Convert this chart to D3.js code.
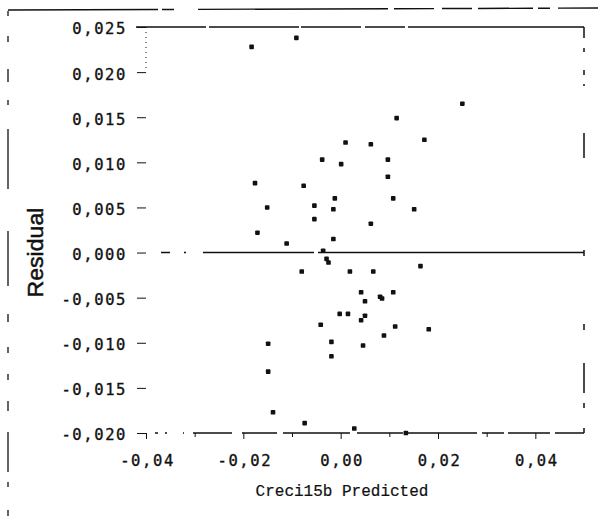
<!DOCTYPE html>
<html><head><meta charset="utf-8">
<script src="https://cdn.jsdelivr.net/npm/d3@7/dist/d3.min.js"></script>
<style>
html,body{margin:0;padding:0;background:#fff;}
svg{display:block;background:#fff;}
</style></head><body>
<svg id="c" width="607" height="521"></svg>
<script>
// ---- data ----
const predicted = [-0.0183,-0.0091,0.0115,0.0172,0.0010,0.0062,0.0250,-0.0038,0.0001,0.0097,
  0.0097,-0.0176,-0.0076,-0.0012,0.0108,-0.0151,-0.0054,-0.0015,0.0151,-0.0054,
  0.0062,-0.0171,-0.0111,-0.0015,-0.0036,-0.0029,-0.0025,-0.0080,0.0019,0.0067,
  0.0164,0.0042,0.0050,0.0081,0.0085,0.0108,-0.0002,0.0015,0.0050,0.0042,
  -0.0041,0.0112,0.0181,0.0089,-0.0019,0.0046,-0.0019,-0.0149,-0.0149,-0.0139,
  -0.0074,0.0028,0.0134];
const residual = [0.0228,0.0238,0.0149,0.0125,0.0122,0.0120,0.0165,0.0103,0.0098,0.0103,
  0.0084,0.0077,0.0074,0.0060,0.0060,0.0050,0.0052,0.0048,0.0048,0.0037,
  0.0032,0.0022,0.0010,0.0015,0.0002,-0.0007,-0.0011,-0.0021,-0.0021,-0.0021,
  -0.0015,-0.0044,-0.0054,-0.0049,-0.0051,-0.0044,-0.0068,-0.0068,-0.0070,-0.0075,
  -0.0080,-0.0082,-0.0085,-0.0092,-0.0099,-0.0103,-0.0115,-0.0101,-0.0132,-0.0177,
  -0.0189,-0.0195,-0.0200];
const xTickValues = [-0.04,-0.02,0.00,0.02,0.04];
const xTickLabels = ["-0,04","-0,02","0,00","0,02","0,04"];
const xMinorTicks = [-0.03,-0.01,0.01,0.03];
const yTickValues = [0.025,0.020,0.015,0.010,0.005,0.000,-0.005,-0.010,-0.015,-0.020];
const yTickLabels = ["0,025","0,020","0,015","0,010","0,005","0,000","-0,005","-0,010","-0,015","-0,020"];
const xDomain = [-0.04,0.05];
const yDomain = [-0.020,0.025];
const xTitle = "Creci15b Predicted";
const yTitle = "Residual";

// ---- drawing ----
const svg = d3.select("#c");
const x = d3.scaleLinear().domain(xDomain).range([146,584]);
const y = d3.scaleLinear().domain(yDomain).range([433,27]);
const ink = "#111";

// scan page border (broken lines)
svg.append("line").attr("x1",8).attr("x2",607).attr("y1",10).attr("y2",8)
  .attr("stroke",ink).attr("stroke-width",1.4)
  .attr("stroke-dasharray","150,4,12,24,190,6,40,8,30,6,55,5,12,8,40");
svg.append("line").attr("x1",8).attr("x2",8).attr("y1",11).attr("y2",521)
  .attr("stroke",ink).attr("stroke-width",1.3)
  .attr("stroke-dasharray","5,20,6,27,13,18,5,24,60,42,55,28,8,25,6,21,6,21,10,21,40,10,5,23,6,30,2");

// plot frame pieces
const frame = svg.append("g").attr("fill","none").attr("stroke",ink);
frame.append("line").attr("x1",x(xDomain[0])-10).attr("x2",x(xDomain[1]))
  .attr("y1",y(yDomain[1])).attr("y2",y(yDomain[1]))
  .attr("stroke-width",1.5).attr("stroke-dasharray","70,3,90,2,60,4,40,3,1000");
frame.append("line").attr("x1",x(xDomain[1])).attr("x2",x(xDomain[1]))
  .attr("y1",y(yDomain[1])).attr("y2",y(yDomain[0]))
  .attr("stroke-width",1.5)
  .attr("stroke-dasharray","11,10,4,18,5,9,2,47,25,92,6,68,6,33,30,10,5,20,5");
frame.append("line").attr("x1",x(xDomain[0])).attr("x2",x(xDomain[0]))
  .attr("y1",y(yDomain[1])).attr("y2",y(0.020))
  .attr("stroke-width",1).attr("stroke-dasharray","1,4");
frame.append("line").attr("x1",x(xDomain[0])).attr("x2",x(xDomain[1]))
  .attr("y1",y(yDomain[0])).attr("y2",y(yDomain[0]))
  .attr("stroke-width",1.4)
  .attr("stroke-dasharray","0,9,3,7,2,16,1,9,39,10,35,6,67,7,46,4,70,5,22,4,42,5,30");
// zero reference line
frame.append("line").attr("x1",x(xDomain[0])).attr("x2",x(xDomain[1]))
  .attr("y1",y(0)).attr("y2",y(0))
  .attr("stroke-width",1.5).attr("stroke-dasharray","0,15,9,14,2,17,111,4,1000");

// y axis
const yAxis = svg.append("g").attr("transform",`translate(${x(xDomain[0])},0)`)
  .call(d3.axisLeft(y).tickValues(yTickValues).tickSize(9).tickPadding(10)
    .tickFormat((d,i)=>yTickLabels[i]));
yAxis.select(".domain").remove();
yAxis.selectAll(".tick line").attr("stroke",ink).attr("stroke-width",1);
yAxis.selectAll(".tick text")
  .attr("font-family","'DejaVu Sans Mono', monospace").attr("font-size",15.5)
  .attr("letter-spacing","1.6px").attr("fill",ink).attr("stroke",ink).attr("stroke-width",0.35)
  .attr("dy","0.45em");

// x axis
const xAxis = svg.append("g").attr("transform",`translate(0,${y(yDomain[0])})`)
  .call(d3.axisBottom(x).tickValues(xTickValues).tickSize(6).tickPadding(16)
    .tickFormat((d,i)=>xTickLabels[i]));
xAxis.select(".domain").remove();
xAxis.selectAll(".tick line").attr("stroke",ink).attr("stroke-width",1);
xAxis.selectAll(".tick text")
  .attr("font-family","'DejaVu Sans Mono', monospace").attr("font-size",15.5)
  .attr("letter-spacing","1.6px").attr("fill",ink).attr("stroke",ink).attr("stroke-width",0.35)
  .attr("dx","1px");
const xMinor = svg.append("g").attr("transform",`translate(0,${y(yDomain[0])})`)
  .call(d3.axisBottom(x).tickValues(xMinorTicks).tickSize(4).tickFormat(""));
xMinor.select(".domain").remove();
xMinor.selectAll(".tick line").attr("stroke",ink).attr("stroke-width",1);

// titles
svg.append("text").attr("x",(x(xDomain[0])+x(xDomain[1]))/2 - 23).attr("y",496)
  .attr("text-anchor","middle")
  .attr("font-family","'Courier New', Courier, 'Nimbus Mono PS', FreeMono, 'Liberation Mono', monospace")
  .attr("font-size",16).attr("fill",ink).attr("stroke",ink).attr("stroke-width",0.2).text(xTitle);
svg.append("text").attr("transform",`translate(43,${y(0)}) rotate(-90)`)
  .attr("text-anchor","middle").attr("font-family","'Liberation Sans', Arial, sans-serif")
  .attr("font-size",22).attr("textLength",90).attr("lengthAdjust","spacingAndGlyphs")
  .attr("fill",ink).attr("stroke",ink).attr("stroke-width",0.5).text(yTitle);

// points
const pts = predicted.map((p,i)=>({p, r: residual[i]}));
svg.append("g").selectAll("rect").data(pts).join("rect")
  .attr("x",d=>x(d.p)-2.3).attr("y",d=>y(d.r)-2.3)
  .attr("width",4.6).attr("height",4.6).attr("rx",0.9)
  .attr("fill",ink);
</script>
</body></html>
